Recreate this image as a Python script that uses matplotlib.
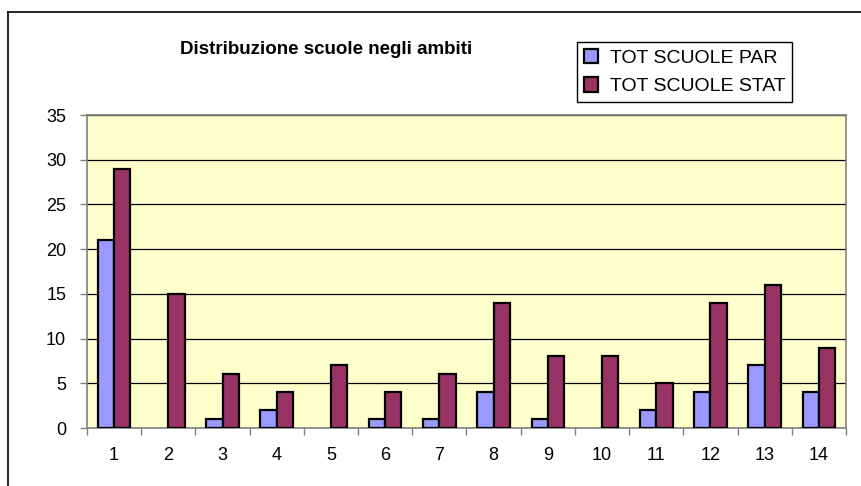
import numpy as np
import matplotlib.pyplot as plt
from matplotlib.lines import Line2D

plt.rcParams['font.family'] = ['Liberation Sans', 'DejaVu Sans']

# Data
ambiti = list(range(1, 15))
tot_par = [21, 0, 1, 2, 0, 1, 1, 4, 1, 0, 2, 4, 7, 4]
tot_stat = [29, 15, 6, 4, 7, 4, 6, 14, 8, 8, 5, 14, 16, 9]
series_labels = ["TOT SCUOLE PAR", "TOT SCUOLE STAT"]
title = "Distribuzione scuole negli ambiti"

fig = plt.figure(figsize=(8.61, 4.86), dpi=100)
ax = fig.add_axes([87 / 861, 1 - 428 / 486, (846 - 87) / 861, (428 - 115) / 486])

x = np.array(ambiti)
w = 0.3
# no outline for empty bars
par_edges = ["black" if v > 0 else "none" for v in tot_par]
ax.bar(x - w / 2, tot_par, width=w, color="#9999FF", edgecolor=par_edges,
       linewidth=1.6, label=series_labels[0], zorder=3)
ax.bar(x + w / 2, tot_stat, width=w, color="#993366", edgecolor="black",
       linewidth=1.6, label=series_labels[1], zorder=3)

ax.set_facecolor("#FFFFCC")
ax.set_xlim(0.5, 14.5)
ax.set_ylim(0, 35)
ax.set_yticks(range(0, 36, 5))
ax.yaxis.grid(True, color="black", linewidth=0.9, zorder=1)

# category labels centered, tick marks between categories
ax.set_xticks(x)
ax.set_xticklabels([str(a) for a in ambiti])
ax.set_xticks(np.arange(0.5, 15, 1), minor=True)
ax.tick_params(axis="x", which="major", length=0, pad=14, labelsize=13)
ax.tick_params(axis="x", which="minor", length=5, color="#808080", width=1)
ax.tick_params(axis="y", length=5, color="#808080", width=1, labelsize=13, pad=10)

for s in ax.spines.values():
    s.set_color("#808080")
    s.set_linewidth(1.2)

fig.text(326 / 861, 1 - 49 / 486, title, ha="center", va="center",
         fontsize=13.5, fontweight="bold")

leg = fig.legend(loc="upper left", bbox_to_anchor=(577 / 861, 1 - 42 / 486),
                 fontsize=14, frameon=True, fancybox=False, edgecolor="black",
                 framealpha=1, handlelength=0.75, handleheight=0.75,
                 handletextpad=0.6, borderpad=0.35, labelspacing=0.55,
                 borderaxespad=0)
leg.get_frame().set_linewidth(1.0)

# outer chart border (top and left visible)
fig.add_artist(Line2D([8 / 861, 1], [1 - 12 / 486, 1 - 12 / 486],
                      transform=fig.transFigure, color="black", linewidth=1.2))
fig.add_artist(Line2D([8 / 861, 8 / 861], [0, 1 - 12 / 486],
                      transform=fig.transFigure, color="black", linewidth=1.2))

plt.savefig("out.png", dpi=100)
